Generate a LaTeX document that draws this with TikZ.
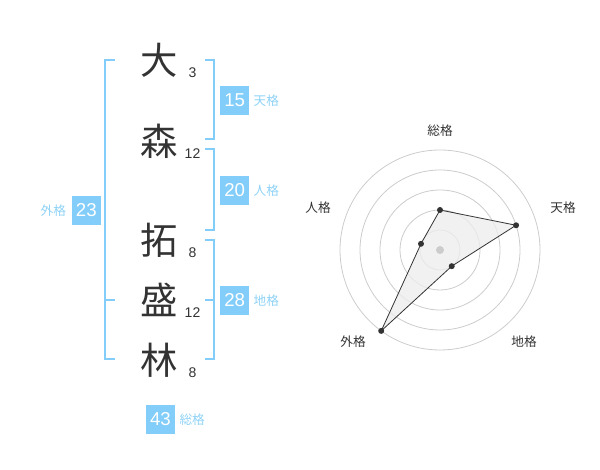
\documentclass[tikz,border=0pt]{standalone}
\usepackage{fontspec}
\setmainfont{Liberation Sans}
\newfontfamily\jp{Noto Sans CJK JP}
\usetikzlibrary{positioning}
\definecolor{kakublue}{HTML}{82CDF9}
\definecolor{kakutext}{HTML}{8ED2F6}
\definecolor{inkgray}{HTML}{333333}
\definecolor{ringgray}{HTML}{CCCCCC}

\begin{document}
\begin{tikzpicture}[x=0.75pt, y=0.75pt,
    kanji/.style={font=\jp\fontsize{28}{28}\selectfont, text=inkgray, inner sep=0pt},
    strokes/.style={font=\fontsize{10.5}{10.5}\selectfont, text=inkgray, inner sep=0pt},
    scorebox/.style={fill=kakublue, text=white, minimum size=21.75pt, inner sep=0pt, font=\fontsize{14}{14}\selectfont},
    kakulabel/.style={font=\jp\fontsize{9.5}{9.5}\selectfont, text=kakutext, inner sep=0pt},
    bracket/.style={draw=kakublue, line width=1.5pt},
    ring/.style={draw=ringgray, line width=0.6pt},
    axislabel/.style={font=\jp\fontsize{9.5}{9.5}\selectfont, text=inkgray, inner sep=0pt}]
    \useasboundingbox (0,0) rectangle (600,470);

    % Name, one character per line, with stroke counts
    \foreach \ch/\y/\n [count=\i] in {大/410/3, 森/329/12, 拓/230/8, 盛/170/12, 林/110/8} {
        \node[kanji] (k\i) at (159,\y) {\ch};
        \node[strokes] (s\i) at (192.5,\y-12.5) {\n};
    }

    % Brackets
    \draw[bracket] (205,410) -| (214,330.5) -- (205,330.5);
    \draw[bracket] (205,320.5) -| (214,240) -- (205,240);
    \draw[bracket] (205,230) -| (214,110.5) -- (205,110.5);
    \draw[bracket] (205,170) -- (214,170);
    \draw[bracket] (115,410) -| (105,110.5) -- (115,110.5);
    \draw[bracket] (105,170) -- (115,170);

    % Scores
    \node[scorebox] (ten) at (234.7,369.5) {15};
    \node[kakulabel, right=3pt of ten] (tenlbl) {天格};
    \node[scorebox] (jin) at (234.7,279.5) {20};
    \node[kakulabel, right=3pt of jin] (jinlbl) {人格};
    \node[scorebox] (chi) at (234.7,169.5) {28};
    \node[kakulabel, right=3pt of chi] (chilbl) {地格};
    \node[scorebox] (gai) at (86.3,259.5) {23};
    \node[kakulabel, left=4pt of gai] (gailbl) {外格};
    \node[scorebox] (sou) at (160.5,50.5) {43};
    \node[kakulabel, right=3pt of sou] (soulbl) {総格};

    % Radar chart
    \begin{scope}[shift={(440,220)}]
        \foreach \r in {20,40,...,100}
            \draw[ring] (0,0) circle (\r*0.75pt);
        \foreach \a/\r [count=\i] in {90/40, 18/80, -54/20, -126/100, 162/20}
            \coordinate (p\i) at (\a:\r);
        \fill[black!7, fill opacity=0.8] (p1) -- (p2) -- (p3) -- (p4) -- (p5) -- cycle;
        \draw[inkgray, line width=0.6pt] (p1) -- (p2) -- (p3) -- (p4) -- (p5) -- cycle;
        \foreach \i in {1,...,5}
            \fill[inkgray] (p\i) circle (2.25pt);
        \fill[ringgray] (0,0) circle (3pt);
        \node[axislabel] (ax1) at (0,119.3) {総格};
        \node[axislabel] (ax2) at (123,42) {天格};
        \node[axislabel] (ax3) at (84,-91.7) {地格};
        \node[axislabel] (ax4) at (-87,-91.7) {外格};
        \node[axislabel] (ax5) at (-122,42) {人格};
    \end{scope}
\end{tikzpicture}
\end{document}
